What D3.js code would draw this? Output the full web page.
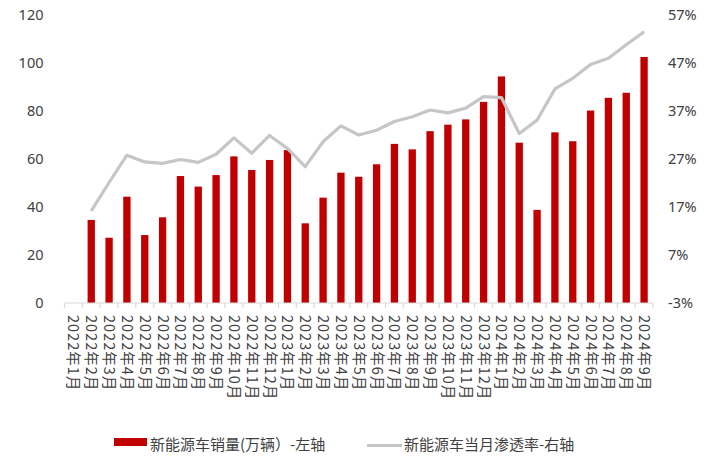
<!DOCTYPE html>
<html>
<head>
<meta charset="utf-8">
<script src="https://cdn.jsdelivr.net/npm/d3@7"></script>
<style>
  body { margin: 0; background: #fff; }
  text { font-family: "Noto Sans CJK SC", "Noto Sans", sans-serif; fill: #404040; }
</style>
</head>
<body>
<div id="chart-area"></div>
<script>
// categories (the first month has no data in the source picture)
const months = [
  "2022年1月", "2022年2月", "2022年3月", "2022年4月", "2022年5月", "2022年6月",
  "2022年7月", "2022年8月", "2022年9月", "2022年10月", "2022年11月", "2022年12月",
  "2023年1月", "2023年2月", "2023年3月", "2023年4月", "2023年5月", "2023年6月",
  "2023年7月", "2023年8月", "2023年9月", "2023年10月", "2023年11月", "2023年12月",
  "2024年1月", "2024年2月", "2024年3月", "2024年4月", "2024年5月", "2024年6月",
  "2024年7月", "2024年8月", "2024年9月"
]
// 新能源车销量(万辆)
const sales = [
  null, 34.6, 27.2, 44.3, 28.3, 35.7, 52.9, 48.5, 53.3, 61.1, 55.4, 59.6,
  63.7, 33.2, 43.9, 54.3, 52.6, 57.8, 66.3, 64.0, 71.6, 74.3, 76.5, 83.8,
  94.4, 66.8, 38.8, 71.1, 67.4, 80.2, 85.5, 87.6, 102.5
]
// 新能源车当月渗透率 (%)
const rate = [
  null, 16.2, 22.1, 27.8, 26.4, 26.1, 26.9, 26.3, 28.0, 31.4, 28.2, 31.9,
  29.2, 25.4, 30.6, 33.9, 32.0, 33.0, 34.8, 35.8, 37.2, 36.6, 37.6, 40.0,
  39.8, 32.3, 35.1, 41.6, 43.8, 46.7, 48.0, 50.8, 53.5
]
const leftTicks = [0, 20, 40, 60, 80, 100, 120]
const rightTicks = [-3, 7, 17, 27, 37, 47, 57]

const W = 723, H = 459
const PLOT = { LEFT: 64.5, RIGHT: 653, TOP: 15, BOTTOM: 303 }

const svg = d3.select("#chart-area").append("svg")
  .attr("width", W)
  .attr("height", H)

// scales
const x = d3.scaleBand().domain(months).range([PLOT.LEFT, PLOT.RIGHT])
const yL = d3.scaleLinear().domain([0, 120]).range([PLOT.BOTTOM, PLOT.TOP])
const yR = d3.scaleLinear().domain([-3, 57]).range([PLOT.BOTTOM, PLOT.TOP])
const barW = x.bandwidth() * 0.41

// left axis labels
const yAxisL = svg.append("g")
  .attr("transform", `translate(${PLOT.LEFT - 21}, 0)`)
  .call(d3.axisLeft(yL).tickValues(leftTicks).tickSize(0).tickPadding(0))
yAxisL.select(".domain").remove()
yAxisL.selectAll("text")
  .attr("font-size", "14.5px")
  .attr("fill", "#404040")
  .style("font-family", "'Noto Sans', sans-serif")

// right axis labels
const yAxisR = svg.append("g")
  .attr("transform", `translate(${PLOT.RIGHT + 15}, 0)`)
  .call(d3.axisRight(yR).tickValues(rightTicks).tickSize(0).tickPadding(0)
    .tickFormat(d => d + "%"))
yAxisR.select(".domain").remove()
yAxisR.selectAll("text")
  .attr("font-size", "14.5px")
  .attr("fill", "#404040")
  .style("font-family", "'Noto Sans', sans-serif")

// bars
const barData = months.map((m, i) => ({ m, v: sales[i] })).filter(d => d.v != null)
svg.append("g").selectAll("rect")
  .data(barData)
  .enter().append("rect")
  .attr("x", d => x(d.m) + (x.bandwidth() - barW) / 2)
  .attr("y", d => yL(d.v))
  .attr("width", barW)
  .attr("height", d => yL(0) - yL(d.v))
  .attr("fill", "#c00000")

// x axis line with boundary ticks
const xAxis = svg.append("g")
  .attr("transform", `translate(0, ${PLOT.BOTTOM})`)
xAxis.append("line")
  .attr("x1", PLOT.LEFT).attr("x2", PLOT.RIGHT)
  .attr("stroke", "#d9d9d9").attr("stroke-width", 1.2)
xAxis.selectAll(".tick")
  .data(months.concat(["end"]))
  .enter().append("line")
  .attr("class", "tick")
  .attr("x1", (d, i) => PLOT.LEFT + i * x.step())
  .attr("x2", (d, i) => PLOT.LEFT + i * x.step())
  .attr("y1", 0).attr("y2", 5)
  .attr("stroke", "#d9d9d9").attr("stroke-width", 1.2)

// rotated month labels
xAxis.selectAll(".lbl")
  .data(months)
  .enter().append("text")
  .attr("class", "lbl")
  .attr("transform", d => `translate(${x(d) + x.bandwidth() / 2}, 12) rotate(90)`)
  .attr("dy", "0.35em")
  .attr("font-size", "14.5px")
  .attr("letter-spacing", "1px")
  .attr("text-anchor", "start")
  .text(d => d)

// penetration line
const lineData = months.map((m, i) => ({ m, v: rate[i] })).filter(d => d.v != null)
const line = d3.line()
  .x(d => x(d.m) + x.bandwidth() / 2)
  .y(d => yR(d.v))
svg.append("path")
  .attr("d", line(lineData))
  .attr("fill", "none")
  .attr("stroke", "#c6c6c6")
  .attr("stroke-width", 3.2)
  .attr("stroke-linejoin", "round")

// legend
const legend = svg.append("g")
legend.append("rect")
  .attr("x", 114).attr("y", 438)
  .attr("width", 33).attr("height", 8)
  .attr("fill", "#c00000")
legend.append("text")
  .attr("x", 150).attr("y", 445)
  .attr("dy", "0.35em")
  .attr("font-size", "15px")
  .text("新能源车销量(万辆）-左轴")
legend.append("line")
  .attr("x1", 367).attr("x2", 402)
  .attr("y1", 445.5).attr("y2", 445.5)
  .attr("stroke", "#c6c6c6").attr("stroke-width", 3.2)
legend.append("text")
  .attr("x", 404).attr("y", 445)
  .attr("dy", "0.35em")
  .attr("font-size", "15px")
  .text("新能源车当月渗透率-右轴")
</script>
</body>
</html>
